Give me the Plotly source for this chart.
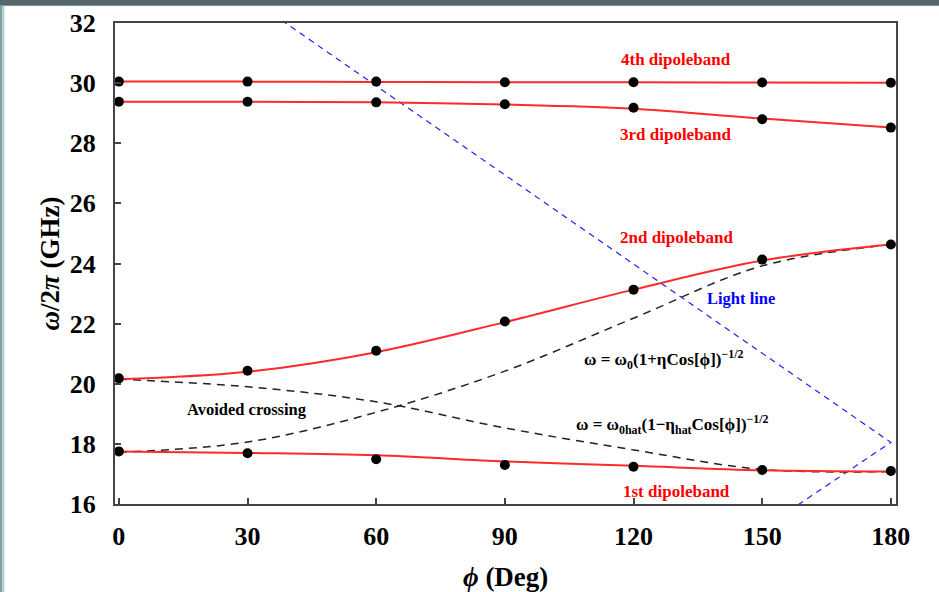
import plotly.graph_objects as go

# ---------------- data ----------------
phi = [0, 30, 60, 90, 120, 150, 180]

# measured points (dots)
band1_pts = [17.75, 17.69, 17.49, 17.30, 17.24, 17.13, 17.10]
band2_pts = [20.18, 20.43, 21.10, 22.07, 23.13, 24.13, 24.63]
band3_pts = [29.38, 29.38, 29.36, 29.30, 29.18, 28.80, 28.52]
band4_pts = [30.05, 30.05, 30.05, 30.03, 30.03, 30.02, 30.01]

# red fitted curves
band1_fit = [17.75, 17.70, 17.62, 17.42, 17.27, 17.12, 17.08]
band2_fit = [20.15, 20.40, 21.05, 22.05, 23.13, 24.10, 24.63]
band3_fit = [29.38, 29.38, 29.36, 29.29, 29.15, 28.82, 28.52]
band4_fit = [30.05, 30.05, 30.04, 30.03, 30.03, 30.02, 30.01]

# dashed black model curves
omega0_curve = [17.72, 18.06, 19.05, 20.42, 22.18, 23.92, 24.63]
omega0hat_curve = [20.15, 19.90, 19.40, 18.53, 17.80, 17.15, 17.08]

# light line (folded)
light_phi = [0, 180, 150]
light_f = [35.84, 18.05, 15.17]

x_ticks = [0, 30, 60, 90, 120, 150, 180]
y_ticks = [16, 18, 20, 22, 24, 26, 28, 30, 32]

FONT = "Liberation Serif"
RED = "#ff2a2a"

fig = go.Figure()

# light line
fig.add_trace(go.Scatter(x=light_phi, y=light_f, mode="lines",
                         line=dict(color="#1f1fff", width=1.2, dash="6px,5px"),
                         showlegend=False, hoverinfo="skip"))
# model curves
for c in (omega0_curve, omega0hat_curve):
    fig.add_trace(go.Scatter(x=phi, y=c, mode="lines",
                             line=dict(color="#222222", width=1.5, dash="8px,6px", shape="spline"),
                             showlegend=False, hoverinfo="skip"))
# red fits
for c in (band1_fit, band2_fit, band3_fit, band4_fit):
    fig.add_trace(go.Scatter(x=phi, y=c, mode="lines",
                             line=dict(color=RED, width=2, shape="spline"),
                             showlegend=False, hoverinfo="skip"))
# dots
for p in (band1_pts, band2_pts, band3_pts, band4_pts):
    fig.add_trace(go.Scatter(x=phi, y=p, mode="markers",
                             marker=dict(color="black", size=10, symbol="circle"),
                             showlegend=False, cliponaxis=False))

ann = []
def label(x, y, text, color, size=17):
    ann.append(dict(x=x, y=y, xref="x", yref="y", text=text, showarrow=False,
                    xanchor="center", yanchor="middle",
                    font=dict(family=FONT, size=size, color=color)))

label(130, 30.78, "<b>4th dipoleband</b>", "#ff0000")
label(130, 28.30, "<b>3rd dipoleband</b>", "#ff0000")
label(130, 24.87, "<b>2nd dipoleband</b>", "#ff0000")
label(130, 16.43, "<b>1st dipoleband</b>", "#ff0000")
label(145, 22.83, "<b>Light line</b>", "#0000ff", 16.5)
label(29.8, 19.13, "<b>Avoided crossing</b>", "black", 16.5)
label(127, 20.80, "<b>ω = ω<sub>0</sub>(1+ηCos[ϕ])<sup>−1/2</sup></b>", "black", 17)
label(129, 18.63, "<b>ω = ω<sub>0hat</sub>(1−η<sub>hat</sub>Cos[ϕ])<sup>−1/2</sup></b>", "black", 17)

W, H = 939, 592
L, R, T, B = 115, 43, 23, 88
pw, ph = W - L - R, H - T - B

# axis titles (pixel targets converted to paper coords)
ann.append(dict(x=(49 - L) / pw, y=0.5, xref="paper", yref="paper", textangle=-90,
                xanchor="center", yanchor="middle",
                text="<b><i>ω</i>/2<i>π</i> (GHz)</b>", showarrow=False,
                font=dict(family=FONT, size=27, color="black")))
ann.append(dict(x=(505 - L) / pw, y=-(577 - (T + ph)) / ph, xref="paper", yref="paper",
                xanchor="center", yanchor="middle",
                text="<b><i>ϕ</i> (Deg)</b>", showarrow=False,
                font=dict(family=FONT, size=27, color="black")))

shapes = [
    dict(type="rect", xref="paper", yref="paper",
         x0=-L / pw, x1=(W - L) / pw, y0=(ph + T - 5.7) / ph, y1=(ph + T) / ph,
         fillcolor="#56686c", line=dict(width=0), layer="below"),
    dict(type="rect", xref="paper", yref="paper",
         x0=-L / pw, x1=(-L + 2.5) / pw, y0=-B / ph, y1=(ph + T - 5.7) / ph,
         fillcolor="#7fa3a6", line=dict(width=0), layer="below"),
    dict(type="rect", xref="paper", yref="paper",
         x0=(-L + 2.5) / pw, x1=(-L + 4.5) / pw, y0=-B / ph, y1=(ph + T - 5.7) / ph,
         fillcolor="#b3d2d4", line=dict(width=0), layer="below"),
]

axis_common = dict(showgrid=False, zeroline=False, showline=True, mirror=True,
                   linecolor="#444444", linewidth=2, ticks="inside", ticklen=6,
                   tickcolor="#444444", tickwidth=1.5, automargin=False,
                   tickfont=dict(family=FONT, size=26, color="black"))

fig.update_layout(
    template="none",
    width=W, height=H,
    margin=dict(l=L, r=R, t=T, b=B, pad=0),
    paper_bgcolor="white", plot_bgcolor="white",
    annotations=ann, shapes=shapes,
    xaxis=dict(range=[-0.9, 181.2], tickvals=x_ticks,
               ticktext=["<b>%d</b>" % v for v in x_ticks],
               ticklabelstandoff=8, **axis_common),
    yaxis=dict(range=[16, 32], tickvals=y_ticks,
               ticktext=["<b>%d</b>" % v for v in y_ticks],
               ticklabelstandoff=12, **axis_common),
)

fig.write_html("out.html", config={"displayModeBar": False},
               post_script="document.body.style.margin='0';document.body.style.padding='0';")
